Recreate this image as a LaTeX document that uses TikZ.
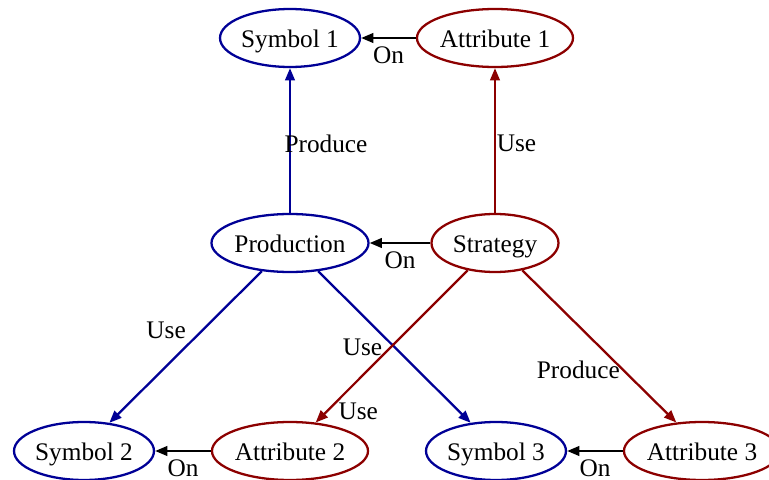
\documentclass[tikz,border=0pt]{standalone}
\usepackage{fontspec}
\setmainfont{Liberation Serif}
\usepackage{tikz}
\usetikzlibrary{shapes.geometric, arrows.meta}
\definecolor{symblue}{RGB}{0,0,150}
\definecolor{attrred}{RGB}{140,0,0}

\begin{document}
\begin{tikzpicture}[x=0.02cm, y=-0.02cm,
  font=\fontsize{14.4}{17}\selectfont,
  sym/.style={ellipse, draw=symblue, line width=1.3pt, inner sep=0pt,
    minimum width=2.8cm, minimum height=1.16cm, text height=12.4pt, text depth=2pt},
  attr/.style={sym, draw=attrred, minimum width=3.08cm},
  lbl/.style={inner sep=0pt},
  bluearrow/.style={draw=symblue, line width=1.3pt, -{Triangle[length=7pt,width=5.5pt]}},
  redarrow/.style={bluearrow, draw=attrred},
  onarrow/.style={bluearrow, draw=black}]
  \useasboundingbox (0,0) rectangle (769,480);
  \clip (0,0) rectangle (769,480);

  \node[sym] (sym1) at (290,38) {Symbol 1};
  \node[attr] (att1) at (495,38) {Attribute 1};
  \node[sym, minimum width=3.08cm] (prod) at (290,243) {Production};
  \node[attr, minimum width=2.54cm] (strat) at (495,243) {Strategy};
  \node[sym] (sym2) at (84,451) {Symbol 2};
  \node[attr] (att2) at (290,451) {Attribute 2};
  \node[sym] (sym3) at (496,451) {Symbol 3};
  \node[attr] (att3) at (702,451) {Attribute 3};

  \foreach \a/\b [count=\c] in {att1/sym1, strat/prod, att2/sym2, att3/sym3}{
    \draw[onarrow] (\a) -- node[lbl, midway, yshift=-0.35cm] (on\c) {On} (\b);
  }

  \draw[bluearrow] (prod) -- node[lbl, midway, xshift=0.72cm, yshift=-0.06cm] (prodlbl1) {Produce} (sym1);
  \draw[redarrow] (strat) -- node[lbl, midway, xshift=0.43cm, yshift=-0.06cm] (uselbl1) {Use} (att1);
  \draw[bluearrow] (prod.-135) -- node[lbl, midway, xshift=-0.39cm, yshift=0.33cm] (uselbl2) {Use} (sym2.48);
  \draw[bluearrow] (prod.-45) -- node[lbl, midway, xshift=-0.64cm] (uselbl3) {Use} (sym3.132);
  \draw[redarrow] (strat.-135) -- node[lbl, pos=0.93, xshift=0.64cm] (uselbl4) {Use} (att2.48);
  \draw[redarrow] (strat.-45) -- node[lbl, pos=0.656, xshift=-0.9cm] (prodlbl2) {Produce} (att3.132);
\end{tikzpicture}
\end{document}
